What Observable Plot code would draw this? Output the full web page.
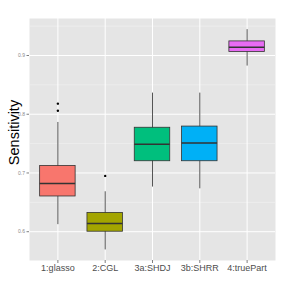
<!DOCTYPE html>
<html>
<head>
<meta charset="utf-8">
<script src="https://cdn.jsdelivr.net/npm/d3@7"></script>
<script src="https://cdn.jsdelivr.net/npm/@observablehq/plot@0.6"></script>
<style>
  html, body { margin: 0; padding: 0; background: #fff; }
</style>
</head>
<body>
<div id="chart"></div>
<script>
const categories = ["1:glasso", "2:CGL", "3a:SHDJ", "3b:SHRR", "4:truePart"];
const whiskerLow = [0.612, 0.569, 0.676, 0.673, 0.882];
const q1 = [0.660, 0.600, 0.720, 0.720, 0.906];
const median = [0.682, 0.614, 0.749, 0.751, 0.914];
const q3 = [0.712, 0.632, 0.777, 0.779, 0.924];
const whiskerHigh = [0.786, 0.668, 0.836, 0.836, 0.944];
const colors = ["#F8766D", "#A3A500", "#00BF7D", "#00B0F6", "#E76BF3"];
const outlierCats = ["1:glasso", "1:glasso", "2:CGL"];
const outlierValues = [0.818, 0.806, 0.695];
const yTicks = [0.6, 0.7, 0.8, 0.9];
const yMinor = [0.65, 0.75, 0.85, 0.95];

const rows = categories.map((c, i) => ({
  cat: c, i: i + 1, lo: whiskerLow[i], q1: q1[i], med: median[i], q3: q3[i], hi: whiskerHigh[i], color: colors[i]
}));
const outliers = outlierCats.map((c, k) => ({i: categories.indexOf(c) + 1, v: outlierValues[k]}));
const xIdx = categories.map((c, i) => i + 1);
const half = 0.375;

const chart = Plot.plot({
  width: 284,
  height: 284,
  marginLeft: 29,
  marginRight: 9,
  marginTop: 18,
  marginBottom: 24,
  style: {fontFamily: "'Liberation Sans', Arial, sans-serif", background: "#fff"},
  x: {type: "linear", domain: [0.4, 5.6]},
  y: {domain: [0.551, 0.963]},
  marks: [
    Plot.frame({fill: "#E5E5E5", stroke: null}),
    Plot.ruleY(yMinor, {stroke: "#F2F2F2", strokeWidth: 0.6}),
    Plot.ruleY(yTicks, {stroke: "#ffffff", strokeWidth: 1}),
    Plot.ruleX(xIdx, {stroke: "#ffffff", strokeWidth: 1}),
    Plot.ruleX(rows, {x: "i", y1: "lo", y2: "hi", stroke: "#555", strokeWidth: 1}),
    Plot.rect(rows, {x1: d => d.i - half, x2: d => d.i + half, y1: "q1", y2: "q3", fill: "color", stroke: "#333", strokeWidth: 0.8}),
    Plot.ruleY(rows, {y: "med", x1: d => d.i - half, x2: d => d.i + half, stroke: "#333", strokeWidth: 1.5}),
    Plot.dot(outliers, {x: "i", y: "v", r: 1.2, fill: "#000", stroke: null}),
    Plot.axisX({ticks: xIdx, tickFormat: i => categories[i - 1], tickSize: 3, tickPadding: 1.5, fontSize: 9, stroke: "#7f7f7f", fill: "#4d4d4d", label: null}),
    Plot.axisY({ticks: yTicks, tickFormat: d => d.toFixed(1), tickSize: 2.5, tickPadding: 2, fontSize: 5, stroke: "#7f7f7f", fill: "#8a8a8a", label: null}),
    Plot.text(["Sensitivity"], {frameAnchor: "left", y: 0.757, dx: -15, dy: -7, rotate: -90, textAnchor: "middle", fontSize: 14.5, fill: "#000"})
  ]
});
document.getElementById("chart").appendChild(chart);
</script>
</body>
</html>
